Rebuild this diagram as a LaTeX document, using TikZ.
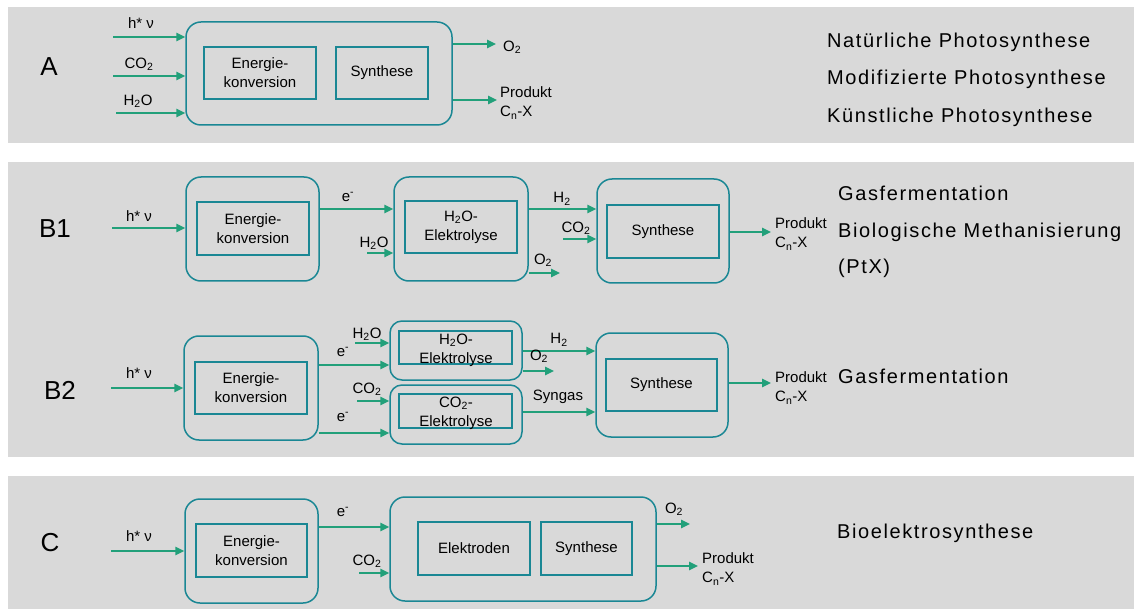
\documentclass[tikz,border=0pt]{standalone}
\usepackage{fontspec}
\setmainfont{Liberation Sans}
\newfontfamily\titlefont[LetterSpace=8]{Liberation Sans}
\usetikzlibrary{arrows.meta}

\definecolor{panelgray}{RGB}{217,217,217}
\definecolor{boxteal}{RGB}{26,135,148}
\definecolor{flowgreen}{RGB}{34,160,122}

\tikzset{
  outerbox/.style={draw=boxteal, line width=1.5pt, rounded corners=15pt, inner sep=0pt},
  innerbox/.style={draw=boxteal, line width=1.5pt, align=center, inner sep=0pt,
    font=\fontsize{15}{19}\selectfont},
  boxtext/.style={inner sep=0pt, align=center, font=\fontsize{15}{19}\selectfont},
  flow/.style={draw=flowgreen, line width=1.5pt, -{Triangle[length=9pt,width=8.5pt]}},
  lbl/.style={inner sep=0pt, font=\fontsize{15}{19}\selectfont},
  prod/.style={lbl, anchor=west, align=left},
  title/.style={inner sep=0pt, anchor=west, font=\titlefont\fontsize{20}{22}\selectfont},
  panelname/.style={inner sep=0pt, font=\fontsize{26}{28}\selectfont}
}

\newcommand{\prodtext}{Produkt\\C\textsubscript{n}-X}

\begin{document}
\begin{tikzpicture}[x=1pt,y=-1pt]
   \def\hv{h* ν}
   \useasboundingbox[fill=white] (0,0) rectangle (1134,609);
   \fill[panelgray] (8,7) rectangle (1134,143);
   \fill[panelgray] (8,162) rectangle (1134,457);
   \fill[panelgray] (8,476) rectangle (1134,609);

   % A
   \node[panelname] (nameA) at (49,67) {A};
   \node[outerbox, minimum width=266pt, minimum height=103pt] (boxA) at (319,73.5) {};
   \node[innerbox, minimum width=112pt, minimum height=52pt] (enA) at (260,73) {Energie-\\konversion};
   \node[innerbox, minimum width=92pt, minimum height=52pt] (synA) at (382,73) {Synthese};
   \coordinate (hvA) at (113,37);
   \coordinate (co2A) at (113,76);
   \coordinate (h2oA) at (116,113);
   \coordinate (o2A) at (496,44);
   \coordinate (prA) at (497,100);
   \draw[flow] (hvA) -- (hvA -| boxA.west);
   \draw[flow] (co2A) -- (co2A -| boxA.west);
   \draw[flow] (h2oA) -- (h2oA -| boxA.west);
   \draw[flow] (boxA.east |- o2A) -- (o2A);
   \draw[flow] (boxA.east |- prA) -- (prA);
   \node[lbl] (hvAlbl) at (141,23) {\hv};
   \node[lbl] (co2Albl) at (139,64) {CO\textsubscript{2}};
   \node[lbl] (h2oAlbl) at (138,101) {H\textsubscript{2}O};
   \node[lbl, anchor=west] (o2Albl) at (503,47) {O\textsubscript{2}};
   \node[prod] (prAlbl) at (500,103) {\prodtext};
   \node[title] (natA) at (827,42) {Natürliche Photosynthese};
   \node[title] (modA) at (827,79) {Modifizierte Photosynthese};
   \node[title] (kueA) at (827,117) {Künstliche Photosynthese};

   % B1
   \node[panelname] (nameB1) at (55,229) {B1};
   \node[outerbox, minimum width=133pt, minimum height=104pt] (enBeo) at (252.5,229) {};
   \node[innerbox, minimum width=112pt, minimum height=53pt] (enBe) at (253,228.5) {Energie-\\konversion};
   \node[outerbox, minimum width=134pt, minimum height=104pt] (elBeo) at (461,229) {};
   \node[innerbox, minimum width=112pt, minimum height=52pt] (elBe) at (461,227) {H\textsubscript{2}O-\\Elektrolyse};
   \node[outerbox, minimum width=132pt, minimum height=104pt] (synBeo) at (663,231) {};
   \node[innerbox, minimum width=112pt, minimum height=53pt] (synBe) at (663,231.5) {Synthese};
   \coordinate (hvBe) at (112,228);
   \coordinate (h2oBe) at (367,253);
   \coordinate (co2Be) at (563,239);
   \coordinate (o2Be) at (560,273);
   \coordinate (prBe) at (771,232);
   \draw[flow] (hvBe) -- (hvBe -| enBeo.west);
   \draw[flow] (enBeo.east |- 0,209) -- (elBeo.west |- 0,209);
   \draw[flow] (h2oBe) -- (h2oBe -| elBeo.west);
   \draw[flow] (elBeo.east |- 0,209) -- (synBeo.west |- 0,209);
   \draw[flow] (co2Be) -- (co2Be -| synBeo.west);
   \draw[flow] (elBeo.east |- o2Be) -- (o2Be);
   \draw[flow] (synBeo.east |- prBe) -- (prBe);
   \node[lbl] (hvBelbl) at (139,216) {\hv};
   \node[lbl] (eBelbl) at (348,197) {e\textsuperscript{-}};
   \node[lbl] (h2oBelbl) at (374,243) {H\textsubscript{2}O};
   \node[lbl] (h2Belbl) at (562,199) {H\textsubscript{2}};
   \node[lbl] (co2Belbl) at (576,228) {CO\textsubscript{2}};
   \node[lbl] (o2Belbl) at (543,260) {O\textsubscript{2}};
   \node[prod] (prBelbl) at (775,234) {\prodtext};
   \node[title] (gasBe) at (838,193) {Gasfermentation};
   \node[title] (metBe) at (838,232) {Biologische Methanisierung};
   \node[title] (ptxBe) at (838,268) {(PtX)};

   % B2
   \node[panelname] (nameB2) at (60,390) {B2};
   \node[outerbox, minimum width=134pt, minimum height=104pt] (enBzo) at (251,388) {};
   \node[innerbox, minimum width=112pt, minimum height=52pt] (enBz) at (251,388) {Energie-\\konversion};
   \node[outerbox, rounded corners=12pt, minimum width=132pt, minimum height=59pt] (h2oBzo) at (456,350.5) {};
   \node[innerbox, minimum width=113pt, minimum height=33pt] (h2oBz) at (455.5,347.5) {};
   \node[boxtext] (h2oBztxt) at (456,350) {H\textsubscript{2}O-\\Elektrolyse};
   \node[outerbox, rounded corners=12pt, minimum width=132pt, minimum height=59pt] (co2Bzo) at (456,414.5) {};
   \node[innerbox, minimum width=113pt, minimum height=34pt] (co2Bz) at (455.5,411) {};
   \node[boxtext] (co2Bztxt) at (456,413) {CO\textsubscript{2}-\\Elektrolyse};
   \node[outerbox, minimum width=132pt, minimum height=104pt] (synBzo) at (662,385) {};
   \node[innerbox, minimum width=111pt, minimum height=52pt] (synBz) at (661.5,385) {Synthese};
   \coordinate (hvBz) at (111,388);
   \coordinate (h2oBz) at (355,343);
   \coordinate (co2Bz) at (357,401);
   \coordinate (o2Bz) at (554,371);
   \coordinate (prBz) at (771,383);
   \draw[flow] (hvBz) -- (hvBz -| enBzo.west);
   \draw[flow] (enBzo.east |- 0,365) -- (h2oBzo.west |- 0,365);
   \draw[flow] (enBzo.east |- 0,433) -- (co2Bzo.west |- 0,433);
   \draw[flow] (h2oBz) -- (h2oBz -| h2oBzo.west);
   \draw[flow] (co2Bz) -- (co2Bz -| co2Bzo.west);
   \draw[flow] (h2oBzo.east |- 0,351) -- (synBzo.west |- 0,351);
   \draw[flow] (h2oBzo.east |- o2Bz) -- (o2Bz);
   \draw[flow] (co2Bzo.east |- 0,412) -- (synBzo.west |- 0,412);
   \draw[flow] (synBzo.east |- prBz) -- (prBz);
   \node[lbl] (hvBzlbl) at (139,373) {\hv};
   \node[lbl] (eBzlbl) at (343,352) {e\textsuperscript{-}};
   \node[lbl] (eBzlblb) at (343,417) {e\textsuperscript{-}};
   \node[lbl] (h2oBzlbl) at (367,334) {H\textsubscript{2}O};
   \node[lbl] (co2Bzlbl) at (367,389) {CO\textsubscript{2}};
   \node[lbl] (h2Bzlbl) at (559,340) {H\textsubscript{2}};
   \node[lbl] (o2Bzlbl) at (539,356) {O\textsubscript{2}};
   \node[lbl] (syBzlbl) at (558,397) {Syngas};
   \node[prod] (prBzlbl) at (775,388) {\prodtext};
   \node[title] (gasBz) at (838,376) {Gasfermentation};

   % C
   \node[panelname] (nameC) at (50,543) {C};
   \node[outerbox, minimum width=133pt, minimum height=104pt] (enCo) at (251.5,551) {};
   \node[innerbox, minimum width=111pt, minimum height=53pt] (enC) at (251.5,550.5) {Energie-\\konversion};
   \node[outerbox, minimum width=266pt, minimum height=104pt] (mainC) at (523,549) {};
   \node[innerbox, minimum width=112pt, minimum height=53pt] (elC) at (474,548.5) {Elektroden};
   \node[innerbox, minimum width=91pt, minimum height=53pt] (synC) at (586.5,548.5) {Synthese};
   \coordinate (hvC) at (111,551);
   \coordinate (co2C) at (359,573);
   \coordinate (o2C) at (690,524);
   \coordinate (prC) at (698,566);
   \draw[flow] (hvC) -- (hvC -| enCo.west);
   \draw[flow] (enCo.east |- 0,527) -- (mainC.west |- 0,527);
   \draw[flow] (co2C) -- (co2C -| mainC.west);
   \draw[flow] (mainC.east |- o2C) -- (o2C);
   \draw[flow] (mainC.east |- prC) -- (prC);
   \node[lbl] (hvClbl) at (139,536) {\hv};
   \node[lbl] (eClbl) at (343,512) {e\textsuperscript{-}};
   \node[lbl] (co2Clbl) at (367,561) {CO\textsubscript{2}};
   \node[lbl] (o2Clbl) at (674,509) {O\textsubscript{2}};
   \node[prod] (prClbl) at (702,569) {\prodtext};
   \node[title] (bioC) at (837,533) {Bioelektrosynthese};
\end{tikzpicture}
\end{document}
